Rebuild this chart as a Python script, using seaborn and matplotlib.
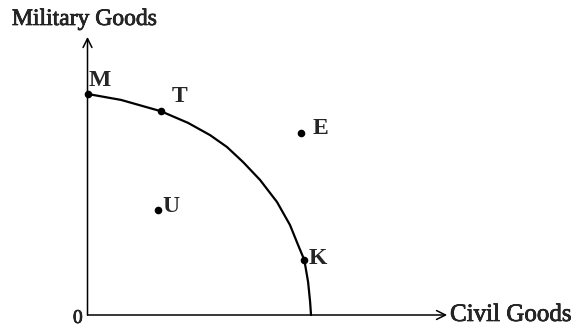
import matplotlib
matplotlib.use('Agg')
import matplotlib.pyplot as plt
import matplotlib.patheffects as pe
import seaborn as sns
import pandas as pd

# production possibility frontier (units: intercepts = 10)
civil = [0.0, 1.50, 3.28, 4.50, 5.48, 6.24, 6.96, 7.72, 8.48, 9.06, 9.42, 9.70, 9.87, 9.96, 10.0]
military = [10.0, 9.73, 9.22, 8.69, 8.14, 7.60, 6.92, 6.11, 5.11, 4.07, 3.17, 2.49, 1.49, 0.59, 0.0]

# labelled points
names = ['M', 'T', 'E', 'U', 'K']
pt_civil = [0.0, 3.28, 9.55, 3.15, 9.70]
pt_military = [10.0, 9.22, 8.24, 4.75, 2.49]

x_label = 'Civil Goods'
y_label = 'Military Goods'

sns.set_style('white')
plt.rcParams['font.family'] = ['Liberation Serif', 'DejaVu Serif']

fig = plt.figure(figsize=(5.79, 3.27), dpi=100)
ax = fig.add_axes([0, 0, 1, 1])
ax.set_xlim(-3.915, 21.99)
ax.set_ylim(-0.543, 14.25)
ax.axis('off')

ppf = pd.DataFrame({'civil': civil, 'military': military})
sns.lineplot(data=ppf, x='civil', y='military', sort=False, estimator=None,
             color='black', lw=1.6, ax=ax)

pts = pd.DataFrame({'name': names, 'civil': pt_civil, 'military': pt_military})
sns.scatterplot(data=pts, x='civil', y='military', color='black', s=30,
                edgecolor='black', linewidth=0, zorder=5, ax=ax)

# axes with open arrow heads
arrow = dict(arrowstyle='->', lw=1.1, color='black', mutation_scale=16,
             shrinkA=0, shrinkB=0)
ax.annotate('', xy=(16.09, 0), xytext=(0, 0), arrowprops=arrow)
ax.annotate('', xy=(0, 12.58), xytext=(0, 0), arrowprops=arrow)

thick = [pe.withStroke(linewidth=0.5, foreground='black')]

# label offsets in points
offs = {'M': (1, 6), 'T': (8, 6.5), 'E': (8.5, -0.8), 'U': (3.5, -1.5), 'K': (3, -3)}
for _, r in pts.iterrows():
    ax.annotate(r['name'], (r['civil'], r['military']), xytext=offs[r['name']],
                textcoords='offset points', fontsize=17, fontweight='bold',
                ha='left', va='baseline')

ax.text(-3.38, 13.12, y_label, fontsize=17, ha='left', va='baseline', path_effects=thick)
ax.text(16.22, -0.27, x_label, fontsize=18, ha='left', va='baseline', path_effects=thick)
ax.text(-0.65, -0.36, '0', fontsize=14, ha='left', va='baseline', path_effects=thick)

fig.savefig('out.png', dpi=100)
